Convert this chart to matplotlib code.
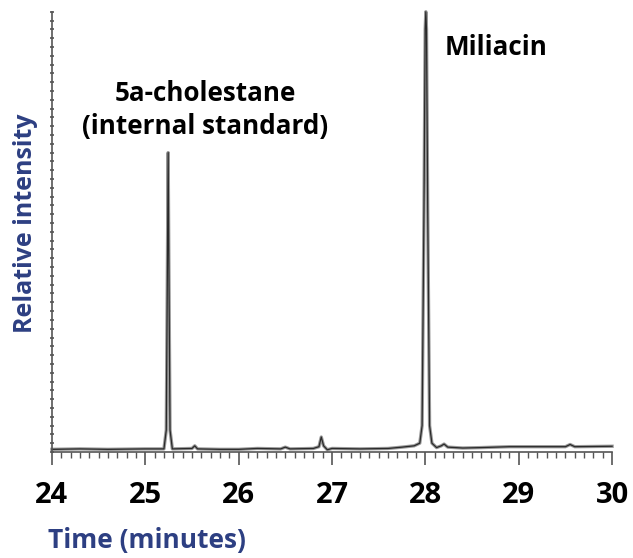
import numpy as np
import matplotlib
matplotlib.use("Agg")
from matplotlib import pyplot as plt
from matplotlib.ticker import MultipleLocator

# chromatogram trace (time in minutes, relative intensity in %)
time = [24.00, 24.30, 24.60, 25.00, 25.20, 25.225, 25.238, 25.245, 25.252, 25.265, 25.29,
        25.50, 25.53, 25.56, 25.80, 26.00, 26.20, 26.45, 26.50, 26.55, 26.80, 26.86,
        26.885, 26.91, 26.95, 27.00, 27.30, 27.60, 27.75, 27.88, 27.94, 27.965, 27.985,
        27.998, 28.005, 28.012, 28.025, 28.045, 28.07, 28.12, 28.17, 28.20, 28.24, 28.40,
        28.60, 28.90, 29.20, 29.50, 29.55, 29.60, 30.00]
intensity = [0.6, 0.7, 0.6, 0.7, 0.7, 5.0, 45.0, 68.0, 45.0, 5.0, 0.7,
             0.8, 1.4, 0.7, 0.6, 0.6, 0.8, 0.7, 1.1, 0.7, 0.8, 1.2,
             3.4, 1.4, 0.5, 0.8, 0.7, 0.8, 1.1, 1.4, 2.0, 6.0, 55.0,
             96.0, 100.0, 96.0, 55.0, 6.0, 2.0, 1.0, 1.4, 1.8, 1.1, 0.9,
             1.0, 1.2, 1.2, 1.2, 1.7, 1.2, 1.3]

peak_labels = ["5a-cholestane\n(internal standard)", "Miliacin"]
peak_label_pos = [(25.64, 77.7), (28.76, 91.8)]

navy = "#2d3f82"
plt.rcParams["font.family"] = ["Open Sans", "DejaVu Sans"]

fig = plt.figure(figsize=(6.33, 5.58), dpi=100)
ax = fig.add_axes([0.082, 0.19, 0.885, 0.789])

ax.plot(time, intensity, color="#9a9a9a", lw=2.4, clip_on=False)
ax.plot(time, intensity, color="#2a2a2a", lw=0.9, clip_on=False)

ax.set_xlim(24, 30)
ax.set_ylim(0, 100)
for s in ["top", "right"]:
    ax.spines[s].set_visible(False)
for s in ["left", "bottom"]:
    ax.spines[s].set_color("#555555")
    ax.spines[s].set_linewidth(1.2)

ax.xaxis.set_major_locator(MultipleLocator(1))
ax.xaxis.set_minor_locator(MultipleLocator(0.1))
ax.yaxis.set_major_locator(MultipleLocator(2))
ax.tick_params(axis="x", which="major", length=9, width=1.2, color="#555555",
               labelsize=21, pad=12)
ax.tick_params(axis="x", which="minor", length=4, width=1.0, color="#555555")
ax.tick_params(axis="y", which="major", length=3, width=1.2, color="#555555",
               direction="inout", labelleft=False)
for lbl in ax.get_xticklabels():
    lbl.set_fontweight("bold")

for txt, (tx, ty) in zip(peak_labels, peak_label_pos):
    ax.text(tx, ty, txt, ha="center", va="center", fontsize=18.7,
            fontweight="bold", linespacing=1.3)

fig.text(0.076, 0.032, "Time (minutes)", color=navy, fontsize=19,
         fontweight="bold", ha="left", va="center")
fig.text(0.04, 0.6, "Relative intensity", color=navy, fontsize=18,
         fontweight="bold", rotation=90, ha="center", va="center")

fig.savefig("out.png", dpi=100)
